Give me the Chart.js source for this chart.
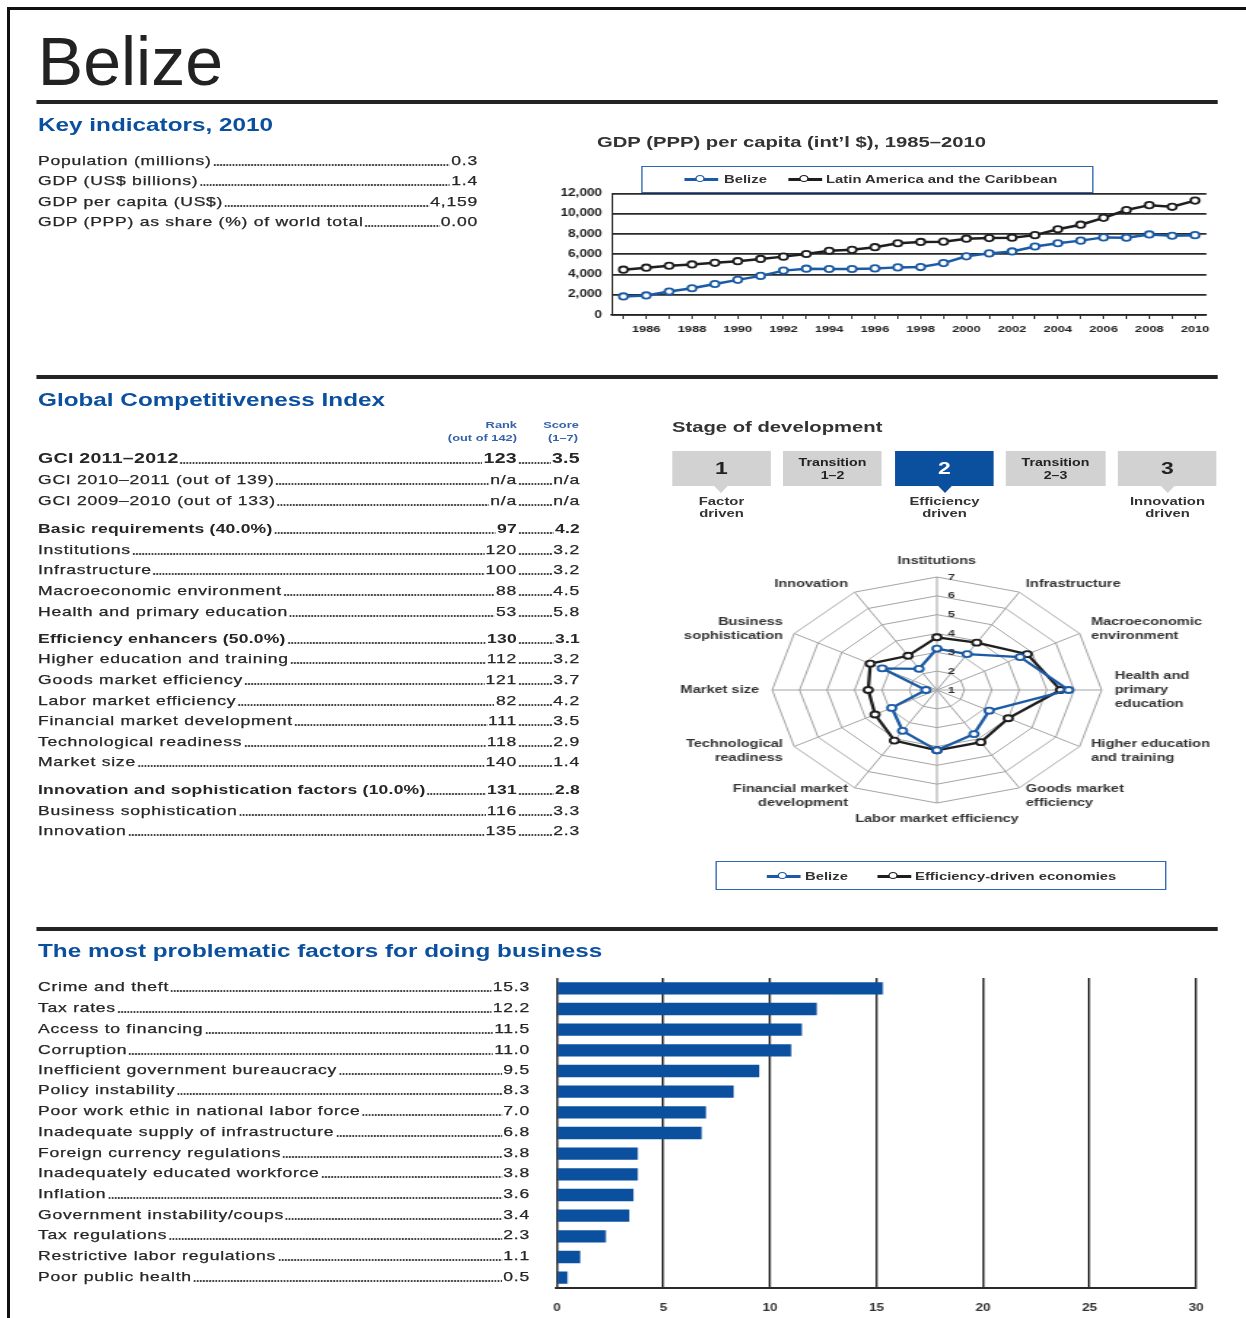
<!DOCTYPE html>
<html>
<head>
<meta charset="utf-8">
<title>Belize</title>
<script src="https://cdn.jsdelivr.net/npm/chart.js@4.4.1/dist/chart.umd.min.js"></script>
<style>
  html, body { margin: 0; padding: 0; background: #fff; }
  body { position: relative; width: 1246px; height: 1318px; overflow: hidden;
         font-family: "Liberation Sans", Arial, Helvetica, sans-serif; color: #262626; }
  .frame { position: absolute; background: #111; }
  /* the reference page is stretched horizontally, so everything is laid out narrow and scaled */
  #page { position: absolute; left: 0; top: 0; width: 923px; height: 1318px;
          transform: scaleX(1.35); transform-origin: 0 0; }
  .rule { background: #232323; }
  .title { font-size: 68px; line-height: 68px; color: #222; white-space: nowrap;
           transform: scaleX(0.7407); transform-origin: 0 0; }
  .head { font-weight: bold; font-size: 18px; line-height: 24px; color: #0b4f9f; white-space: nowrap; }
  .sub { font-weight: bold; font-size: 15px; line-height: 20px; color: #333; white-space: nowrap; }
  .row { display: flex; align-items: flex-end; font-size: 13px; line-height: 20px;
         letter-spacing: 0.55px; white-space: nowrap; -webkit-text-stroke: 0.25px #262626; }
  .row span { display: block; flex: none; }
  .seg { display: flex !important; align-items: flex-end; }
  .row .dots { flex: 1 1 auto; min-width: 3px; height: 2px; margin: 0 1px 5px 1px;
               background-image: radial-gradient(circle, #444 0.8px, transparent 1.05px);
               background-size: 2.3px 2px; background-repeat: repeat-x; }
  .row.b { font-weight: bold; letter-spacing: 0.15px; -webkit-text-stroke: 0; }
  .row.big { font-size: 14.5px; line-height: 22px; font-weight: bold; letter-spacing: 0.2px; -webkit-text-stroke: 0; }
  .colhead { font-weight: bold; font-size: 9.5px; line-height: 12px; color: #3562a8; white-space: nowrap; }
  .r { text-align: right; }
  .c { text-align: center; }
  .stage { background: #d2d2d2; color: #222; font-weight: bold; text-align: center;
           display: flex; flex-direction: column; justify-content: center; }
  .stage.on { background: #0b4f9f; color: #fff; }
  .stage .num { font-size: 17px; line-height: 18px; }
  .stage .tr { font-size: 10.5px; line-height: 13px; }
  .tri { width: 0; height: 0; border-left: 5px solid transparent; border-right: 5px solid transparent;
         border-top: 7px solid #d2d2d2; }
  .tri.on { border-top-color: #0b4f9f; }
  .stlab { font-weight: bold; font-size: 11px; line-height: 12px; color: #333; text-align: center; white-space: nowrap; }
  .lgbox { border: 1.5px solid #3067b2; box-sizing: border-box; }
  .sym::before { content: ''; position: absolute; left: 0; right: 0; top: 5px; height: 3px; background: currentColor; }
  .sym::after { content: ''; position: absolute; left: 50%; top: 2.2px; width: 5px; height: 5px; margin-left: -4.3px;
                border: 1.8px solid currentColor; border-radius: 50%; background: #fff; }
  .lgtext { font-weight: bold; font-size: 11px; line-height: 14px; color: #333; white-space: nowrap; }
</style>
</head>
<body>
<div class="frame" style="left:7px; top:7px; width:1239px; height:3px;"></div>
<div class="frame" style="left:7px; top:7px; width:3px; height:1311px;"></div>
<div id="page"></div>

<script>
// ---- data ----
const keyLabels = ['Population (millions)', 'GDP (US$ billions)', 'GDP per capita (US$)',
  'GDP (PPP) as share (%) of world total'];
const keyValues = ['0.3', '1.4', '4,159', '0.00'];

const years = ['1985', '1986', '1987', '1988', '1989', '1990', '1991', '1992', '1993',
  '1994', '1995', '1996', '1997', '1998', '1999', '2000', '2001', '2002', '2003', '2004',
  '2005', '2006', '2007', '2008', '2009', '2010'];
const gdpBelize = [1830, 1930, 2320, 2640, 3060, 3470, 3860, 4380, 4570, 4540, 4540, 4600,
  4700, 4730, 5120, 5790, 6080, 6270, 6760, 7080, 7340, 7660, 7630, 7950, 7820, 7880];
const gdpLatAm = [4470, 4670, 4860, 4990, 5150, 5310, 5530, 5760, 6020, 6340, 6430, 6690,
  7080, 7210, 7240, 7530, 7590, 7630, 7880, 8460, 8910, 9590, 10360, 10840, 10680, 11290];

const gciLabels = ['GCI 2011–2012', 'GCI 2010–2011 (out of 139)', 'GCI 2009–2010 (out of 133)',
  'Basic requirements (40.0%)', 'Institutions', 'Infrastructure', 'Macroeconomic environment',
  'Health and primary education', 'Efficiency enhancers (50.0%)', 'Higher education and training',
  'Goods market efficiency', 'Labor market efficiency', 'Financial market development',
  'Technological readiness', 'Market size', 'Innovation and sophistication factors (10.0%)',
  'Business sophistication', 'Innovation'];
const gciRanks = ['123', 'n/a', 'n/a', '97', '120', '100', '88', '53', '130', '112', '121', '82',
  '111', '118', '140', '131', '116', '135'];
const gciScores = ['3.5', 'n/a', 'n/a', '4.2', '3.2', '3.2', '4.5', '5.8', '3.1', '3.2', '3.7', '4.2',
  '3.5', '2.9', '1.4', '2.8', '3.3', '2.3'];

const stageBoxes = [['1'], ['Transition', '1–2'], ['2'], ['Transition', '2–3'], ['3']];
const stageDriven = [['Factor', 'driven'], null, ['Efficiency', 'driven'], null, ['Innovation', 'driven']];
const stageCurrent = 2;

const pillarLabels = [['Institutions'], ['Infrastructure'], ['Macroeconomic', 'environment'],
  ['Health and', 'primary', 'education'], ['Higher education', 'and training'],
  ['Goods market', 'efficiency'], ['Labor market efficiency'], ['Financial market', 'development'],
  ['Technological', 'readiness'], ['Market size'], ['Business', 'sophistication'], ['Innovation']];
const pillarBelize = [3.2, 3.2, 4.5, 5.8, 3.2, 3.7, 4.2, 3.5, 2.9, 1.4, 3.3, 2.3];
const pillarEfficiency = [3.8, 3.9, 4.8, 5.5, 4.0, 4.2, 4.2, 4.1, 3.6, 3.5, 3.8, 3.1];

const factorLabels = ['Crime and theft', 'Tax rates', 'Access to financing', 'Corruption',
  'Inefficient government bureaucracy', 'Policy instability', 'Poor work ethic in national labor force',
  'Inadequate supply of infrastructure', 'Foreign currency regulations', 'Inadequately educated workforce',
  'Inflation', 'Government instability/coups', 'Tax regulations', 'Restrictive labor regulations',
  'Poor public health'];
const factorValues = [15.3, 12.2, 11.5, 11.0, 9.5, 8.3, 7.0, 6.8, 3.8, 3.8, 3.6, 3.4, 2.3, 1.1, 0.5];

// ---- layout ----
const S = 1.35;          // horizontal stretch of the whole page
const K = 1.08;          // extra horizontal stretch of the radar
const BLUE = '#0b4f9f';
const LINE_BLUE = '#1b5aa5';
const DARK = '#1e1e1e';
const page = document.getElementById('page');

// x and w are given in final (stretched) pixels
function put(x, y, w, h, cls, text) {
  const el = document.createElement('div');
  el.className = cls || '';
  el.style.position = 'absolute';
  el.style.left = (x / S) + 'px';
  el.style.top = y + 'px';
  if (w != null) el.style.width = (w / S) + 'px';
  if (h != null) el.style.height = h + 'px';
  if (text != null) el.textContent = text;
  page.appendChild(el);
  return el;
}

function add(parent, cls, text) {
  const el = document.createElement('span');
  if (cls) el.className = cls;
  if (text != null) el.textContent = text;
  parent.appendChild(el);
  return el;
}

function leader(x, cy, w, label, value, cls) {
  const row = put(x, cy - 10, w, 20, 'row ' + (cls || ''));
  add(row, '', label);
  add(row, 'dots');
  add(row, '', value);
}

// title, rules and headings
put(38, 27, null, 68, 'title', 'Belize');
[100, 375, 927].forEach(y => put(36, y, 1182, 4, 'rule'));
put(38, 113, null, 24, 'head', 'Key indicators, 2010');
put(38, 388, null, 24, 'head', 'Global Competitiveness Index');
put(38, 939, null, 24, 'head', 'The most problematic factors for doing business');
put(597, 132, null, 20, 'sub', 'GDP (PPP) per capita (int’l $), 1985–2010');

// key indicators
const keyRowY = [161, 181, 202, 222];
keyLabels.forEach((l, i) => leader(38, keyRowY[i], 478 - 38, l, keyValues[i]));

// GCI table
put(420, 419, 97, 12, 'colhead r', 'Rank');
put(420, 432, 97, 12, 'colhead r', '(out of 142)');
put(530, 419, 62, 12, 'colhead c', 'Score');
put(532, 432, 62, 12, 'colhead c', '(1–7)');
const gciRowY = [458, 480, 501, 529, 550, 570, 591, 612, 639, 659, 680, 701, 721, 742, 762, 790, 811, 831];
const gciBold = [3, 8, 15];
gciLabels.forEach((l, i) => {
  const cls = i === 0 ? 'big' : (gciBold.includes(i) ? 'b' : '');
  const lh = i === 0 ? 22 : 20;
  const row = put(38, gciRowY[i] - lh / 2, 580 - 38, lh, 'row ' + cls);
  const left = add(row, 'seg');
  left.style.width = ((517 - 38) / S) + 'px';
  add(left, '', l);
  add(left, 'dots');
  add(left, '', gciRanks[i]);
  const right = add(row, 'seg');
  right.style.flex = '1 1 auto';
  add(right, 'dots');
  add(right, '', gciScores[i]);
});

// stage of development
put(672, 417, null, 20, 'sub', 'Stage of development');
const stageX = [672, 783, 895, 1006, 1118];
stageBoxes.forEach((lines, i) => {
  const box = put(stageX[i], 451, 99, 35, 'stage' + (i === stageCurrent ? ' on' : ''));
  lines.forEach(t => {
    const d = document.createElement('div');
    d.className = lines.length > 1 ? 'tr' : 'num';
    d.textContent = t;
    box.appendChild(d);
  });
  if (stageDriven[i]) {
    const cx = stageX[i] + 49.5;
    const tri = put(cx, 486, null, null, 'tri' + (i === stageCurrent ? ' on' : ''));
    tri.style.marginLeft = '-5px';
    const lab = put(cx - 60, 495, 120, 24, 'stlab');
    stageDriven[i].forEach(t => {
      const d = document.createElement('div');
      d.textContent = t;
      lab.appendChild(d);
    });
  }
});

// legends
function legendItem(x, cy, color, symW, text, textX) {
  const s = put(x, cy - 6.5, symW, 13, 'sym');
  s.style.color = color;
  put(textX, cy - 7, null, 14, 'lgtext', text);
}
put(641, 166, 452, 27, 'lgbox');
legendItem(685, 179, LINE_BLUE, 33, 'Belize', 724);
legendItem(788, 179, DARK, 34, 'Latin America and the Caribbean', 826);
put(715, 861, 452, 29, 'lgbox');
legendItem(767, 876, LINE_BLUE, 33, 'Belize', 805);
legendItem(877, 876, DARK, 34, 'Efficiency-driven economies', 915);

// factor list
const factorRowY = [987, 1008, 1029, 1050, 1070, 1090, 1111, 1132, 1153, 1173, 1194, 1215, 1235, 1256, 1277];
factorLabels.forEach((l, i) => leader(38, factorRowY[i], 530 - 38, l, factorValues[i].toFixed(1)));

// chart holders
function holder(x, y, w, h, id) {
  const el = put(x, y, w, h, '');
  const c = document.createElement('canvas');
  c.id = id;
  el.appendChild(c);
  return el;
}
holder(555, 180, 660, 160, 'gdp');
holder(547, 976, 660, 342, 'bars');
const radarBox = put(937 - 210 * S, 540, null, 300, '');
radarBox.style.width = '420px';
radarBox.style.transform = 'scaleX(' + K + ')';
radarBox.style.transformOrigin = '50% 50%';
const rc = document.createElement('canvas');
rc.id = 'radar';
radarBox.appendChild(rc);

// ---- charts ----
Chart.defaults.font.family = '"Liberation Sans", Arial, sans-serif';
Chart.defaults.color = '#222';

function pointStyle(color) {
  return { borderColor: color, backgroundColor: '#fff', pointBackgroundColor: '#fff',
    pointBorderColor: color, pointRadius: 3.2, pointBorderWidth: 1.8, borderWidth: 2.5,
    tension: 0, fill: false };
}

new Chart(document.getElementById('gdp'), {
  type: 'line',
  data: {
    labels: years,
    datasets: [
      Object.assign({ label: 'Belize', data: gdpBelize }, pointStyle(LINE_BLUE)),
      Object.assign({ label: 'Latin America and the Caribbean', data: gdpLatAm }, pointStyle(DARK))
    ]
  },
  options: {
    animation: false,
    responsive: true,
    maintainAspectRatio: false,
    layout: { padding: { top: 10, right: 8 / S, left: 0, bottom: 0 } },
    plugins: { legend: { display: false }, tooltip: { enabled: false } },
    scales: {
      x: {
        offset: true,
        grid: { display: true, drawOnChartArea: false, drawTicks: true, tickLength: 4, color: '#333', lineWidth: 1 },
        border: { display: true, color: '#222', width: 1.5 },
        ticks: {
          autoSkip: false, maxRotation: 0, minRotation: 0, padding: 5,
          font: { size: 9.5, weight: 'bold' },
          callback: (v, i) => (Number(years[i]) % 2 === 0 ? years[i] : '')
        },
        afterFit: s => { s.height = 25; }
      },
      y: {
        min: 0, max: 12000,
        ticks: { stepSize: 2000, padding: 10 / S, font: { size: 10, weight: 'bold' },
          callback: v => v.toLocaleString('en-US') },
        grid: { color: '#2a2a2a', lineWidth: 1.8, drawTicks: false },
        border: { display: true, color: '#2a2a2a', width: 1 },
        afterFit: s => { s.width = 57 / S; }
      }
    }
  }
});

// pillar names and 1–7 numbers, drawn un-stretched inside the stretched radar
const radarText = {
  id: 'radarText',
  afterDraw(chart) {
    const sc = chart.scales.r;
    const ctx = chart.ctx;
    const n = chart.data.labels.length;
    const LH = 14;
    ctx.save();
    ctx.fillStyle = '#333';
    ctx.font = 'bold 10.8px "Liberation Sans", Arial, sans-serif';
    ctx.textBaseline = 'middle';
    chart.data.labels.forEach((lines, i) => {
      const p = sc.getPointPosition(i, sc.drawingArea + 9);
      const a = (i / n) * Math.PI * 2;
      const sin = Math.sin(a), cos = Math.cos(a);
      ctx.textAlign = Math.abs(sin) < 0.1 ? 'center' : (sin > 0 ? 'left' : 'right');
      let top = p.y - lines.length * LH / 2;
      if (cos > 0.9) top = p.y - lines.length * LH;
      if (cos < -0.9) top = p.y;
      lines.forEach((t, j) => {
        ctx.save();
        ctx.translate(p.x, top + j * LH + LH / 2);
        ctx.scale(1 / K, 1);
        ctx.fillText(t, 0, 0);
        ctx.restore();
      });
    });
    ctx.font = 'bold 9.5px "Liberation Sans", Arial, sans-serif';
    ctx.textAlign = 'center';
    for (let v = sc.min; v <= sc.max; v++) {
      ctx.save();
      ctx.translate(sc.xCenter + 10, sc.yCenter - sc.getDistanceFromCenterForValue(v));
      ctx.scale(1 / K, 1);
      ctx.fillText(String(v), 0, 0);
      ctx.restore();
    }
    ctx.restore();
  }
};

new Chart(document.getElementById('radar'), {
  type: 'radar',
  data: {
    labels: pillarLabels,
    datasets: [
      Object.assign({ label: 'Belize', data: pillarBelize }, pointStyle(LINE_BLUE), { pointRadius: 3, borderWidth: 2.3 }),
      Object.assign({ label: 'Efficiency-driven economies', data: pillarEfficiency }, pointStyle(DARK), { pointRadius: 3, borderWidth: 2.3 })
    ]
  },
  options: {
    animation: false,
    responsive: true,
    maintainAspectRatio: false,
    layout: { padding: { top: 37, bottom: 37, left: 97, right: 97 } },
    plugins: { legend: { display: false }, tooltip: { enabled: false } },
    scales: {
      r: {
        min: 1, max: 7,
        ticks: { display: false, stepSize: 1 },
        grid: { color: '#a3a3a3', lineWidth: 1 },
        angleLines: { color: '#a3a3a3', lineWidth: 1 },
        pointLabels: { display: false }
      }
    }
  },
  plugins: [radarText]
});

new Chart(document.getElementById('bars'), {
  type: 'bar',
  data: {
    labels: factorLabels,
    datasets: [{ data: factorValues, backgroundColor: BLUE, barPercentage: 0.6, categoryPercentage: 1 }]
  },
  options: {
    indexAxis: 'y',
    animation: false,
    responsive: true,
    maintainAspectRatio: false,
    layout: { padding: { left: 10 / S, right: 12 / S, top: 2, bottom: 0 } },
    plugins: { legend: { display: false }, tooltip: { enabled: false } },
    scales: {
      x: {
        min: 0, max: 30,
        ticks: { stepSize: 5, padding: 2, color: '#333', font: { size: 10, weight: 'bold' } },
        grid: { color: '#2a2a2a', lineWidth: 1.5, drawTicks: true, tickLength: 12, tickColor: 'rgba(0,0,0,0)' },
        border: { display: true, color: '#2a2a2a', width: 2 },
        afterFit: s => { s.height = 30; }
      },
      y: { display: false }
    }
  }
});
</script>
</body>
</html>
